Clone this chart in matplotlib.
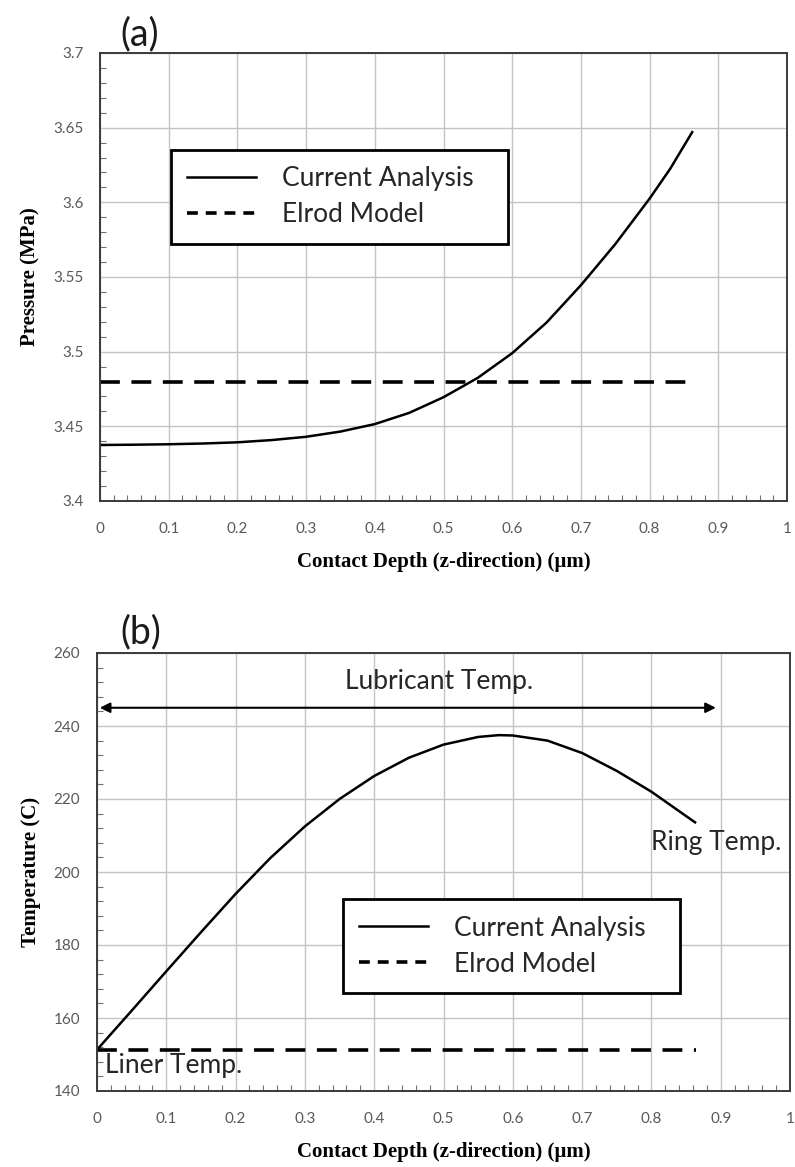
import numpy as np
import matplotlib.pyplot as plt
from matplotlib.ticker import MultipleLocator
from matplotlib.lines import Line2D

plt.rcParams["font.family"] = ["Lato", "DejaVu Sans"]

# (a) pressure along the contact depth
depth_p = [0.0, 0.05, 0.1, 0.15, 0.2, 0.25, 0.3, 0.35, 0.4, 0.45, 0.5, 0.55, 0.6,
           0.65, 0.7, 0.75, 0.8, 0.83, 0.862]
pressure = [3.4375, 3.4377, 3.438, 3.4385, 3.4393, 3.4408, 3.443, 3.4465, 3.4515,
            3.459, 3.4695, 3.4825, 3.499, 3.5195, 3.5445, 3.572, 3.6025, 3.6225, 3.647]
elrod_p_x = [0.0, 0.865]
elrod_p = [3.48, 3.48]

# (b) temperature along the contact depth
depth_t = [0.0, 0.05, 0.1, 0.15, 0.2, 0.25, 0.3, 0.35, 0.4, 0.45, 0.5, 0.55, 0.58,
           0.6, 0.65, 0.7, 0.75, 0.8, 0.863]
temperature = [151.3, 162.0, 172.8, 183.5, 194.0, 203.8, 212.5, 220.0, 226.3, 231.3,
               234.9, 237.0, 237.5, 237.4, 236.0, 232.6, 227.7, 222.0, 213.6]
elrod_t_x = [0.0, 0.865]
elrod_t = [151.3, 151.3]

x_ticks = [0, 0.1, 0.2, 0.3, 0.4, 0.5, 0.6, 0.7, 0.8, 0.9, 1]
x_labels = ["0", "0.1", "0.2", "0.3", "0.4", "0.5", "0.6", "0.7", "0.8", "0.9", "1"]
p_ticks = [3.4, 3.45, 3.5, 3.55, 3.6, 3.65, 3.7]
p_labels = ["3.4", "3.45", "3.5", "3.55", "3.6", "3.65", "3.7"]
t_ticks = [140, 160, 180, 200, 220, 240, 260]
t_labels = ["140", "160", "180", "200", "220", "240", "260"]

legend_labels = ["Current Analysis", "Elrod Model"]

W, H = 795, 1167
fig = plt.figure(figsize=(W / 100, H / 100), dpi=100)

tick_color = "#595959"
text_color = "#262626"
solid_lw = 1.8
dash_lw = 2.6
dash = (0, (5.5, 3.2))
label_font = dict(family="Liberation Serif", fontweight="bold", fontsize=15)


def px_axes(x0, y0, x1, y1):
    return fig.add_axes([x0 / W, 1 - y1 / H, (x1 - x0) / W, (y1 - y0) / H])


def style_axes(ax, yticks, ylabels, yminor):
    ax.set_xlim(0, 1)
    ax.set_xticks(x_ticks)
    ax.set_xticklabels(x_labels)
    ax.set_yticks(yticks)
    ax.set_yticklabels(ylabels)
    ax.set_ylim(yticks[0], yticks[-1])
    ax.xaxis.set_minor_locator(MultipleLocator(0.02))
    ax.yaxis.set_minor_locator(MultipleLocator(yminor))
    ax.grid(True, which="major", color="#c4c4c4", linewidth=1.0)
    ax.set_axisbelow(True)
    ax.tick_params(which="major", length=0, labelsize=11, labelcolor=tick_color)
    ax.tick_params(axis="x", which="major", pad=15)
    ax.tick_params(axis="y", which="major", pad=12)
    ax.tick_params(which="minor", direction="in", length=4, width=0.8, color="#707070",
                   top=False, right=False)
    for s in ax.spines.values():
        s.set_color("#3a3a3a")
        s.set_linewidth(1.4)
    ax.set_xlabel("Contact Depth (z-direction) (\u00b5m)", labelpad=12, **label_font)


def add_legend(ax, x0, top, width):
    handles = [Line2D([], [], color="black", lw=solid_lw),
               Line2D([], [], color="black", lw=dash_lw, linestyle=(0, (3.0, 2.2)))]
    leg = ax.legend(handles, legend_labels, loc="upper left",
                    bbox_to_anchor=(x0, top - 0.2, width, 0.2), mode="expand",
                    borderaxespad=0, fancybox=False, framealpha=1, edgecolor="black",
                    fontsize=19, handlelength=2.6, handletextpad=1.0, borderpad=0.62,
                    labelspacing=0.42)
    leg.get_frame().set_linewidth(2.0)
    for t in leg.get_texts():
        t.set_color(text_color)


# ---- (a) pressure
ax1 = px_axes(100, 53, 787, 501)
ax1.plot(depth_p, pressure, color="black", lw=solid_lw)
ax1.plot(elrod_p_x, elrod_p, color="black", lw=dash_lw, linestyle=dash)
style_axes(ax1, p_ticks, p_labels, 0.01)
ax1.set_ylabel("Pressure (MPa)", labelpad=9, **label_font)
add_legend(ax1, 0.103, 0.784, 0.491)
fig.text(140 / W, 1 - 34 / H, "(a)", fontsize=27, ha="center", va="center", color="#1a1a1a")

# ---- (b) temperature
ax2 = px_axes(97, 653, 790, 1091)
ax2.plot(depth_t, temperature, color="black", lw=solid_lw)
ax2.plot(elrod_t_x, elrod_t, color="black", lw=dash_lw, linestyle=dash)
style_axes(ax2, t_ticks, t_labels, 4)
ax2.set_ylabel("Temperature (C)", labelpad=9, **label_font)
add_legend(ax2, 0.355, 0.438, 0.486)
fig.text(141 / W, 1 - 632 / H, "(b)", fontsize=27, ha="center", va="center", color="#1a1a1a")

ax2.annotate("", xy=(0.004, 245), xytext=(0.893, 245),
             arrowprops=dict(arrowstyle="<|-|>", color="black", lw=1.5,
                             mutation_scale=15, shrinkA=0, shrinkB=0))
ax2.text(0.494, 252.2, "Lubricant Temp.", fontsize=19, ha="center", va="center",
         color=text_color)
ax2.text(0.799, 208, "Ring Temp.", fontsize=19, ha="left", va="center", color=text_color)
ax2.text(0.012, 147, "Liner Temp.", fontsize=19, ha="left", va="center", color=text_color)

fig.savefig("out.png", dpi=100)
